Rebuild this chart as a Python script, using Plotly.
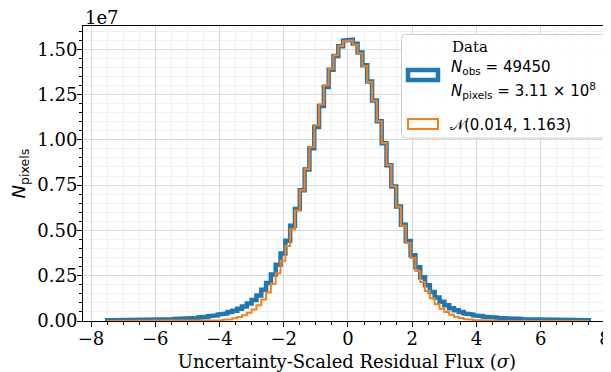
import plotly.graph_objects as go

# ---------------- data (counts in units of 1e7 per bin) ----------------
bin_start = -7.5
bin_width = 0.15
n_bins = 100

data_counts = [
    0.004, 0.004, 0.004, 0.004, 0.004, 0.007, 0.007, 0.008, 0.008, 0.008,
    0.009, 0.009, 0.010, 0.010, 0.011, 0.012, 0.013, 0.015, 0.017, 0.020,
    0.023, 0.027, 0.031, 0.036, 0.042, 0.049, 0.057, 0.067, 0.080, 0.096,
    0.116, 0.141, 0.172, 0.210, 0.256, 0.310, 0.372, 0.443, 0.525, 0.618,
    0.722, 0.836, 0.953, 1.071, 1.186, 1.292, 1.386, 1.462, 1.516, 1.548,
    1.552, 1.530, 1.482, 1.412, 1.322, 1.217, 1.102, 0.981, 0.860, 0.742,
    0.632, 0.531, 0.441, 0.363, 0.297, 0.242, 0.197, 0.160, 0.130, 0.106,
    0.087, 0.071, 0.059, 0.049, 0.042, 0.036, 0.031, 0.027, 0.024, 0.021,
    0.019, 0.017, 0.015, 0.014, 0.012, 0.011, 0.010, 0.010, 0.009, 0.009,
    0.008, 0.008, 0.008, 0.007, 0.007, 0.006, 0.004, 0.004, 0.004, 0.004,
]

model_counts = [
    0.000, 0.000, 0.000, 0.000, 0.000, 0.000, 0.000, 0.000, 0.000, 0.000,
    0.000, 0.000, 0.000, 0.000, 0.000, 0.000, 0.000, 0.000, 0.000, 0.001,
    0.001, 0.002, 0.003, 0.004, 0.007, 0.010, 0.015, 0.022, 0.032, 0.046,
    0.064, 0.087, 0.118, 0.157, 0.205, 0.264, 0.333, 0.414, 0.507, 0.610,
    0.721, 0.839, 0.960, 1.080, 1.195, 1.301, 1.392, 1.466, 1.518, 1.546,
    1.548, 1.525, 1.477, 1.407, 1.319, 1.216, 1.102, 0.982, 0.861, 0.743,
    0.630, 0.525, 0.431, 0.348, 0.276, 0.215, 0.165, 0.125, 0.093, 0.068,
    0.049, 0.034, 0.024, 0.016, 0.011, 0.007, 0.005, 0.003, 0.002, 0.001,
    0.001, 0.000, 0.000, 0.000, 0.000, 0.000, 0.000, 0.000, 0.000, 0.000,
    0.000, 0.000, 0.000, 0.000, 0.000, 0.000, 0.000, 0.000, 0.000, 0.000,
]

x_ticks = [-8, -6, -4, -2, 0, 2, 4, 6, 8]
y_ticks = [0.00, 0.25, 0.50, 0.75, 1.00, 1.25, 1.50]

legend_data = ["Data", "<i>N</i><sub>obs</sub> = 49450",
               "<i>N</i><sub>pixels</sub> = 3.11 × 10<sup>8</sup>"]
legend_model = "𝒩(0.014, 1.163)"

# ---------------- build step outlines ----------------
edges = [bin_start + i * bin_width for i in range(n_bins + 1)]


def step_path(values):
    xs, ys = [edges[0]], [0.0]
    for i, v in enumerate(values):
        xs += [edges[i], edges[i + 1]]
        ys += [v, v]
    xs.append(edges[-1])
    ys.append(0.0)
    return xs, ys


bx, by = step_path(data_counts)
ox, oy = step_path(model_counts)

BLUE = "#1f77b4"
ORANGE = "#ff7f0e"
SERIF = "DejaVu Serif"
SANS = "DejaVu Sans"

fig = go.Figure()
fig.add_trace(go.Scatter(x=bx, y=by, mode="lines", line=dict(color=BLUE, width=4.5),
                         hoverinfo="skip", showlegend=False))
fig.add_trace(go.Scatter(x=ox, y=oy, mode="lines", line=dict(color=ORANGE, width=2),
                         hoverinfo="skip", showlegend=False))

# ---------------- geometry (page has an 8px body margin) ----------------
OFF = 8
W, H = 611 - OFF, 372 - OFF
L, R, T, B = 75, 0, 18, 51
PW, PH = W - L - R, H - T - B


def px(x):  # screen pixel -> paper
    return (x - OFF - L) / PW


def py(y):  # screen pixel -> paper
    return (H - B - (y - OFF)) / PH


XR = [-8.25, 8.19]
YR = [0, 1.628]

axis_common = dict(showline=True, linecolor="black", linewidth=1, zeroline=False,
                   tickcolor="black", tickwidth=1, showgrid=True, gridcolor="#d9d9d9",
                   gridwidth=1, automargin=False, ticklabelstandoff=-4,
                   tickfont=dict(family=SERIF, size=18, color="black"))

fig.update_layout(
    width=W, height=H,
    margin=dict(l=L, r=R, t=T, b=B, autoexpand=False),
    paper_bgcolor="white", plot_bgcolor="white",
    xaxis=dict(range=XR, tickvals=x_ticks, ticks="outside", ticklen=5, mirror=True,
               minor=dict(dtick=0.5, tick0=0, ticks="outside", ticklen=3, tickcolor="black",
                          showgrid=True, gridcolor="#f0f0f0", gridwidth=1),
               title=dict(text="Uncertainty-Scaled Residual Flux (<i>σ</i>)",
                          font=dict(family=SERIF, size=18, color="black"), standoff=10),
               **axis_common),
    yaxis=dict(range=YR, tickvals=y_ticks, tickformat=".2f", ticks="outside", ticklen=5,
               minor=dict(dtick=0.05, tick0=0, ticks="outside", ticklen=3, tickcolor="black",
                          showgrid=True, gridcolor="#f0f0f0", gridwidth=1),
               title=dict(text="<i>N</i><sub>pixels</sub>",
                          font=dict(family=SANS, size=18, color="black"), standoff=16),
               **axis_common),
    xaxis2=dict(overlaying="x", side="top", anchor="y", range=XR, tickvals=x_ticks,
                ticks="inside", ticklen=5, tickcolor="black", showticklabels=False,
                showgrid=False, showline=False, zeroline=False, automargin=False,
                minor=dict(dtick=0.5, tick0=0, ticks="inside", ticklen=3, tickcolor="black")),
    yaxis2=dict(overlaying="y", side="right", anchor="x", range=YR, tickvals=y_ticks,
                ticks="inside", ticklen=5, tickcolor="black", showticklabels=False,
                showgrid=False, showline=False, zeroline=False, automargin=False,
                minor=dict(dtick=0.05, tick0=0, ticks="inside", ticklen=3, tickcolor="black")),
    showlegend=False,
)

# "1e7" offset text
fig.add_annotation(text="1e7", x=px(83), y=py(17), xref="paper", yref="paper",
                   xanchor="left", yanchor="middle", showarrow=False,
                   font=dict(family=SERIF, size=18, color="black"))

# ---------------- legend (drawn manually) ----------------
x0, x1, y0, y1, r = 401.5, 605.5, 34.5, 138.0, 4


def rr_path(x0, y0, x1, y1, r):
    pts = [
        f"M{px(x0 + r)},{py(y0)}", f"L{px(x1 - r)},{py(y0)}",
        f"Q{px(x1)},{py(y0)} {px(x1)},{py(y0 + r)}", f"L{px(x1)},{py(y1 - r)}",
        f"Q{px(x1)},{py(y1)} {px(x1 - r)},{py(y1)}", f"L{px(x0 + r)},{py(y1)}",
        f"Q{px(x0)},{py(y1)} {px(x0)},{py(y1 - r)}", f"L{px(x0)},{py(y0 + r)}",
        f"Q{px(x0)},{py(y0)} {px(x0 + r)},{py(y0)}", "Z",
    ]
    return " ".join(pts)


fig.add_shape(type="path", path=rr_path(x0, y0, x1, y1, r), xref="paper", yref="paper",
              line=dict(color="#cccccc", width=1), fillcolor="rgba(255,255,255,0.9)", layer="above")
fig.add_shape(type="rect", x0=px(408), x1=px(438), y0=py(70), y1=py(80), xref="paper", yref="paper",
              line=dict(color=BLUE, width=4.5), fillcolor="rgba(0,0,0,0)", layer="above")
fig.add_shape(type="rect", x0=px(408), x1=px(438), y0=py(119), y1=py(129), xref="paper", yref="paper",
              line=dict(color=ORANGE, width=2), fillcolor="rgba(0,0,0,0)", layer="above")

legend_items = [
    (legend_data[0], 450, 47, SERIF),
    (legend_data[1], 449, 68, SANS),
    (legend_data[2], 449, 91, SANS),
    (legend_model, 448, 125, SANS),
]
for txt, lx, ly, fam in legend_items:
    fig.add_annotation(text=txt, x=px(lx), y=py(ly), xref="paper", yref="paper",
                       xanchor="left", yanchor="middle", showarrow=False,
                       font=dict(family=fam, size=15, color="black"))

fig.write_html("out.html")
